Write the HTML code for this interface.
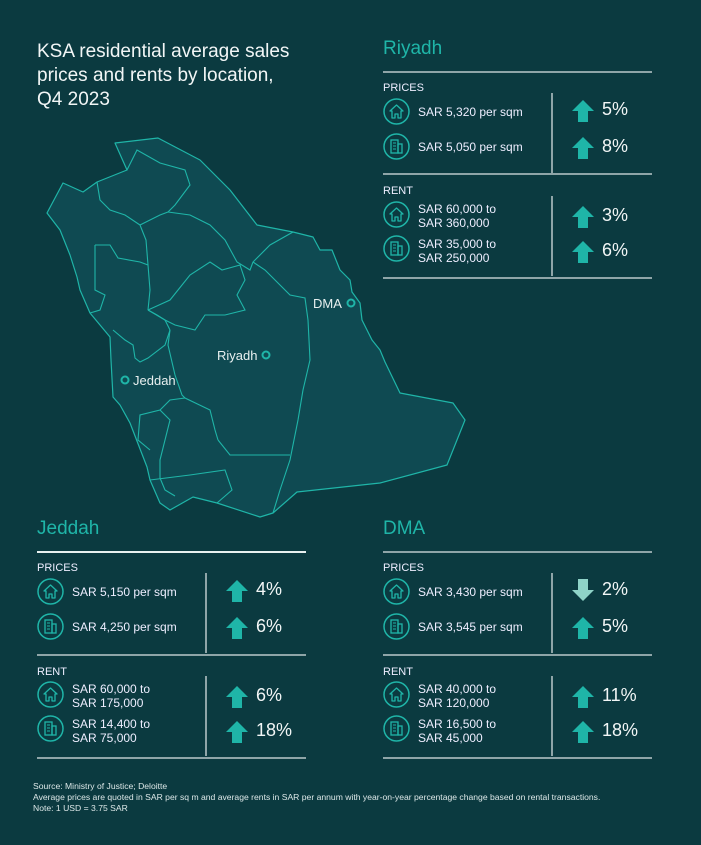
<!DOCTYPE html>
<html><head><meta charset="utf-8"><style>
body{margin:0;width:701px;height:845px;background:#0b3a40;font-family:"Liberation Sans",sans-serif;color:#e8f0f0;position:relative;overflow:hidden}
.a{position:absolute;white-space:nowrap}
.p{position:absolute;width:269px;height:210px}
.hl{position:absolute;left:0;width:269px;height:2px;background:#8fa5a8}
.vl{position:absolute;left:168px;width:2px;height:80px;background:#8fa5a8}
.ttl{position:absolute;left:0;top:-33px;font-size:19px;color:#1fb5a8}
.lab{position:absolute;left:0;font-size:11px;color:#eef}
.ic{position:absolute;left:0;width:27px;height:27px}
.tx{position:absolute;left:35px;font-size:12px;line-height:14px;color:#eef}
.pc{position:absolute;left:219px;font-size:18px;color:#f2f6f6}
.ar{position:absolute;left:189px;width:22px;height:22px}
</style></head><body>
<svg width="0" height="0" style="position:absolute">
<defs>
<g id="house"><circle cx="13.5" cy="13.5" r="12.5" fill="none" stroke="#1fb5a8" stroke-width="1.5"/><path d="M7,13 L13.5,7 L20,13 L18,13 L18,20 L15,20 L15,16 L12,16 L12,20 L9,20 L9,13 Z" fill="none" stroke="#1fb5a8" stroke-width="1.3" stroke-linejoin="round"/></g>
<g id="bldg"><circle cx="13.5" cy="13.5" r="12.5" fill="none" stroke="#1fb5a8" stroke-width="1.5"/><rect x="8" y="7" width="7" height="13" fill="none" stroke="#1fb5a8" stroke-width="1.3"/><rect x="15" y="11" width="4" height="9" fill="none" stroke="#1fb5a8" stroke-width="1.3"/><path d="M10,10h3M10,13h3M10,16h3" stroke="#1fb5a8" stroke-width="1"/></g>
</defs></svg>
<div class="a" style="left:37px;top:40px;font-size:19px;line-height:24px;color:#f2f6f6">KSA residential average sales<br>prices and rents by location,<br>Q4 2023</div>

<svg class="a" style="left:0;top:0" width="701" height="845">
<g fill="#0f4a52" stroke="#1fb5a8" stroke-width="1.2" stroke-linejoin="round">
<path d="M115,143 L158,138 L200,160 L230,190 L257,225 L293,232 L313,237 L320,250 L332,250 L340,270 L350,280 L352,292 L360,303 L362,320 L372,340 L380,350 L385,362 L400,393 L453,403 L465,420 L447,465 L380,483 L297,492 L273,513 L260,517 L217,503 L193,497 L170,510 L160,503 L150,480 L147,467 L130,423 L120,405 L113,397 L111,360 L110,337 L90,313 L80,290 L77,277 L70,255 L60,230 L47,213 L63,183 L83,192 L97,182 L127,170 Z"/>
</g>
<g fill="none" stroke="#1fb5a8" stroke-width="1.1">
<path d="M127,170 L137,150 L160,163 L185,170 L190,185 L175,205 L168,212"/>
<path d="M97,182 L100,200 L110,210 L125,215 L140,225 L146,240 L148,265 L150,290 L148,310"/>
<path d="M168,212 L190,215 L210,225 L225,240 L237,262 L250,270 L253,262 L270,245 L293,232"/>
<path d="M140,225 L160,215 L168,212"/>
<path d="M95,245 L110,245 L118,258 L140,262 L148,265"/>
<path d="M95,245 L95,290 L105,295 L100,310 L90,313"/>
<path d="M148,310 L170,300 L190,275 L210,262 L222,270 L240,265 L245,280 L237,295 L245,310 L225,315 L205,315 L195,330 L175,325 L165,320 L148,310"/>
<path d="M148,310 L157,315 L165,320 L170,330"/>
<path d="M253,262 L265,270 L290,295 L305,298 L308,320 L310,360 L303,390 L298,420 L290,460 L280,490 L273,513"/>
<path d="M170,330 L168,345 L175,375 L182,395 L185,398 L210,410 L215,430 L218,440"/>
<path d="M113,330 L125,340 L133,345 L135,358 L140,362 L148,358 L165,345 L170,330"/>
<path d="M185,398 L170,400 L160,410 L140,415 L138,440 L150,450"/>
<path d="M218,440 L230,455 L290,455"/>
<path d="M160,410 L170,420 L165,440 L160,460 L160,478 L165,490 L175,496"/>
<path d="M150,480 L190,475 L225,470 L232,490 L217,503"/>
</g>
<g fill="none" stroke="#1fb5a8" stroke-width="2"><circle cx="266" cy="355" r="3.5"/><circle cx="125" cy="380" r="3.5"/><circle cx="351" cy="303" r="3.5"/></g>
<text x="217" y="360" font-size="13" fill="#e8f0f0" font-family="Liberation Sans">Riyadh</text>
<text x="133" y="385" font-size="13" fill="#e8f0f0" font-family="Liberation Sans">Jeddah</text>
<text x="313" y="308" font-size="13" fill="#e8f0f0" font-family="Liberation Sans">DMA</text>
</svg>

<!-- Riyadh -->
<div class="p" style="left:383px;top:71px">
<div class="ttl">Riyadh</div>
<div class="hl" style="top:0"></div>
<div class="lab" style="top:11px">PRICES</div>
<svg class="ic" style="top:27px"><use href="#house"/></svg><div class="tx" style="top:34px">SAR 5,320 per sqm</div>
<svg class="ic" style="top:62px"><use href="#bldg"/></svg><div class="tx" style="top:69px">SAR 5,050 per sqm</div>
<div class="vl" style="top:22px"></div>
<svg class="ar" style="top:29px" viewBox="0 0 22 22"><path d="M11,0 L22,11 L16,11 L16,22 L6,22 L6,11 L0,11Z" fill="#1fb5a8"/></svg><div class="pc" style="top:28px">5%</div>
<svg class="ar" style="top:66px" viewBox="0 0 22 22"><path d="M11,0 L22,11 L16,11 L16,22 L6,22 L6,11 L0,11Z" fill="#1fb5a8"/></svg><div class="pc" style="top:65px">8%</div>
<div class="hl" style="top:102px"></div>
<div class="lab" style="top:114px">RENT</div>
<svg class="ic" style="top:130px"><use href="#house"/></svg><div class="tx" style="top:131px">SAR 60,000 to<br>SAR 360,000</div>
<svg class="ic" style="top:164px"><use href="#bldg"/></svg><div class="tx" style="top:166px">SAR 35,000 to<br>SAR 250,000</div>
<div class="vl" style="top:125px"></div>
<svg class="ar" style="top:135px" viewBox="0 0 22 22"><path d="M11,0 L22,11 L16,11 L16,22 L6,22 L6,11 L0,11Z" fill="#1fb5a8"/></svg><div class="pc" style="top:134px">3%</div>
<svg class="ar" style="top:170px" viewBox="0 0 22 22"><path d="M11,0 L22,11 L16,11 L16,22 L6,22 L6,11 L0,11Z" fill="#1fb5a8"/></svg><div class="pc" style="top:169px">6%</div>
<div class="hl" style="top:206px"></div>
</div>

<!-- Jeddah -->
<div class="p" style="left:37px;top:551px">
<div class="ttl">Jeddah</div>
<div class="hl" style="top:0;background:#e8f0f0"></div>
<div class="lab" style="top:11px">PRICES</div>
<svg class="ic" style="top:27px"><use href="#house"/></svg><div class="tx" style="top:34px">SAR 5,150 per sqm</div>
<svg class="ic" style="top:62px"><use href="#bldg"/></svg><div class="tx" style="top:69px">SAR 4,250 per sqm</div>
<div class="vl" style="top:22px"></div>
<svg class="ar" style="top:29px" viewBox="0 0 22 22"><path d="M11,0 L22,11 L16,11 L16,22 L6,22 L6,11 L0,11Z" fill="#1fb5a8"/></svg><div class="pc" style="top:28px">4%</div>
<svg class="ar" style="top:66px" viewBox="0 0 22 22"><path d="M11,0 L22,11 L16,11 L16,22 L6,22 L6,11 L0,11Z" fill="#1fb5a8"/></svg><div class="pc" style="top:65px">6%</div>
<div class="hl" style="top:103px"></div>
<div class="lab" style="top:115px">RENT</div>
<svg class="ic" style="top:130px"><use href="#house"/></svg><div class="tx" style="top:131px">SAR 60,000 to<br>SAR 175,000</div>
<svg class="ic" style="top:164px"><use href="#bldg"/></svg><div class="tx" style="top:166px">SAR 14,400 to<br>SAR 75,000</div>
<div class="vl" style="top:125px"></div>
<svg class="ar" style="top:135px" viewBox="0 0 22 22"><path d="M11,0 L22,11 L16,11 L16,22 L6,22 L6,11 L0,11Z" fill="#1fb5a8"/></svg><div class="pc" style="top:134px">6%</div>
<svg class="ar" style="top:170px" viewBox="0 0 22 22"><path d="M11,0 L22,11 L16,11 L16,22 L6,22 L6,11 L0,11Z" fill="#1fb5a8"/></svg><div class="pc" style="top:169px">18%</div>
<div class="hl" style="top:206px"></div>
</div>

<!-- DMA -->
<div class="p" style="left:383px;top:551px">
<div class="ttl">DMA</div>
<div class="hl" style="top:0"></div>
<div class="lab" style="top:11px">PRICES</div>
<svg class="ic" style="top:27px"><use href="#house"/></svg><div class="tx" style="top:34px">SAR 3,430 per sqm</div>
<svg class="ic" style="top:62px"><use href="#bldg"/></svg><div class="tx" style="top:69px">SAR 3,545 per sqm</div>
<div class="vl" style="top:22px"></div>
<svg class="ar" style="top:28px" viewBox="0 0 22 22"><path d="M11,22 L22,11 L16,11 L16,0 L6,0 L6,11 L0,11Z" fill="#8fd3c8"/></svg><div class="pc" style="top:28px">2%</div>
<svg class="ar" style="top:66px" viewBox="0 0 22 22"><path d="M11,0 L22,11 L16,11 L16,22 L6,22 L6,11 L0,11Z" fill="#1fb5a8"/></svg><div class="pc" style="top:65px">5%</div>
<div class="hl" style="top:103px"></div>
<div class="lab" style="top:115px">RENT</div>
<svg class="ic" style="top:130px"><use href="#house"/></svg><div class="tx" style="top:131px">SAR 40,000 to<br>SAR 120,000</div>
<svg class="ic" style="top:164px"><use href="#bldg"/></svg><div class="tx" style="top:166px">SAR 16,500 to<br>SAR 45,000</div>
<div class="vl" style="top:125px"></div>
<svg class="ar" style="top:135px" viewBox="0 0 22 22"><path d="M11,0 L22,11 L16,11 L16,22 L6,22 L6,11 L0,11Z" fill="#1fb5a8"/></svg><div class="pc" style="top:134px">11%</div>
<svg class="ar" style="top:170px" viewBox="0 0 22 22"><path d="M11,0 L22,11 L16,11 L16,22 L6,22 L6,11 L0,11Z" fill="#1fb5a8"/></svg><div class="pc" style="top:169px">18%</div>
<div class="hl" style="top:206px"></div>
</div>

<div class="a" style="left:33px;top:781px;font-size:8.6px;line-height:11px;color:#dde8e8">Source: Ministry of Justice; Deloitte<br>Average prices are quoted in SAR per sq m and average rents in SAR per annum with year-on-year percentage change based on rental transactions.<br>Note: 1 USD = 3.75 SAR</div>
</body></html>
